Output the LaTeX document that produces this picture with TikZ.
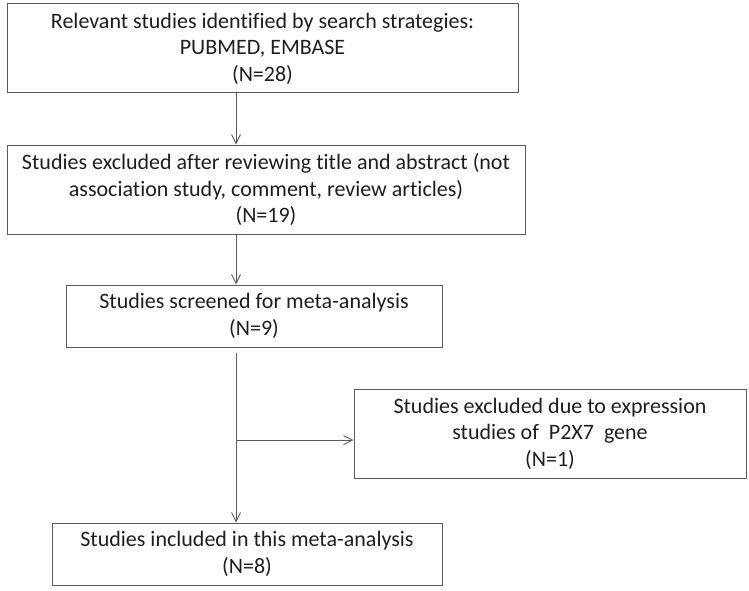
\documentclass[tikz,border=0pt]{standalone}
\usepackage{fontspec}
\setmainfont{Carlito}[Ligatures=NoCommon]
\usetikzlibrary{arrows.meta,positioning}
\definecolor{edge}{HTML}{5A5A5A}
\definecolor{ink}{HTML}{1E1E1E}
\tikzset{
  box/.style={draw=edge, line width=1pt, align=center, text=ink, inner sep=0pt,
    font=\fontsize{22}{26.5}\selectfont},
  arr/.style={draw=edge, line width=0.9pt, -{Straight Barb[length=9pt,width=9pt]}},
}

\begin{document}
\begin{tikzpicture}[x=1pt,y=1pt]
  \useasboundingbox (0,0) rectangle (749,-591);

  \node[box, minimum width=511pt, minimum height=89pt] (ident) at (262.5,-48.5)
    {Relevant studies identified by search strategies:\\PUBMED, EMBASE\\(N=28)};
  \node[box, minimum width=518pt, minimum height=89pt] (title) at (266,-189.5)
    {Studies excluded after reviewing title and abstract (not\\association study, comment, review articles)\\(N=19)};
  \node[box, minimum width=376pt, minimum height=62pt] (screen) at (254,-316)
    {Studies screened for meta-analysis\\(N=9)};
  \node[box, minimum width=392pt, minimum height=89pt] (expr) at (550,-433.5)
    {Studies excluded due to expression\\studies of~ P2X7~ gene\\(N=1)};
  \node[box, minimum width=390pt, minimum height=62pt] (incl) at (247,-554)
    {Studies included in this meta-analysis\\(N=8)};

  \coordinate (spine) at (236,0);
  \coordinate (fork) at (236,-440);

  \draw[arr] (ident.south -| spine) -- (title.north -| spine);
  \draw[arr] (title.south -| spine) -- (screen.north -| spine);
  \draw[arr] ([yshift=-5pt]screen.south -| spine) -- (incl.north -| spine);
  \draw[arr] (fork) -- (fork -| expr.west);
\end{tikzpicture}
\end{document}
